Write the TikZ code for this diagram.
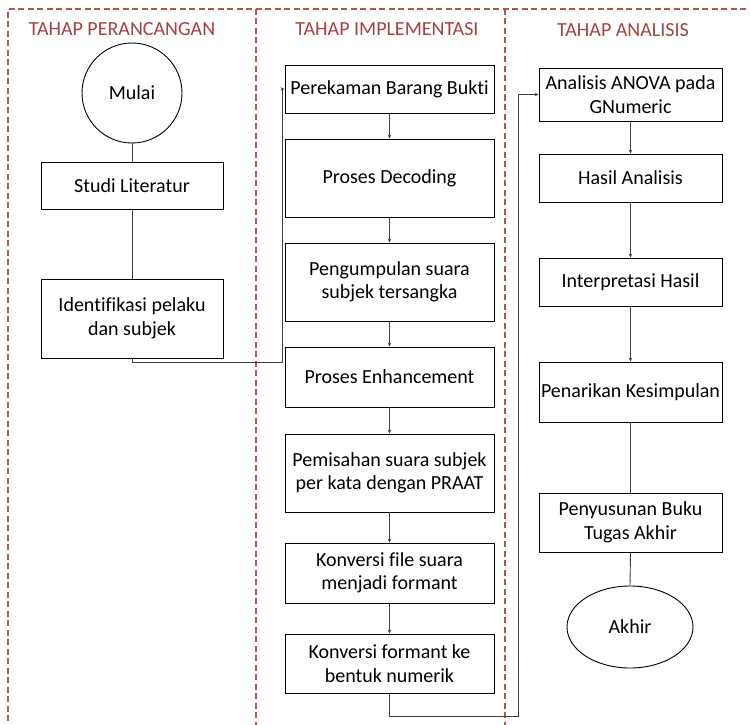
\documentclass[tikz,border=0pt]{standalone}
\usepackage{fontspec}
\setmainfont{Carlito}[Ligatures=NoCommon]
\usetikzlibrary{arrows.meta,shapes.geometric}
\definecolor{tred}{HTML}{A5423F}
\definecolor{dline}{HTML}{B3574F}
\definecolor{conncol}{HTML}{404040}
\begin{document}
\begin{tikzpicture}[x=1pt,y=-1pt,
  box/.style={draw=black,line width=0.9pt,inner sep=0pt,align=center,font=\fontsize{20}{23.5}\selectfont},
  lbl/.style={text=tred,font=\fontsize{20}{23}\selectfont,inner sep=0pt,anchor=base},
  conn/.style={draw=conncol,line width=0.9pt},
  arr/.style={conn,-{Stealth[length=4pt,width=3.5pt]}},
  phase/.style={draw=dline,line width=1.2pt,dash pattern=on 6pt off 3.5pt}]
\useasboundingbox (0,0) rectangle (750,725);

% phase frames
\draw[phase] (8,740) -- (8,9) -- (760,9);
\draw[phase] (256,9) -- (256,740);
\draw[phase] (505,9) -- (505,740);

% titles
\node[lbl] (t1) at (122,36) {TAHAP PERANCANGAN};
\node[lbl] (t2) at (387,36) {TAHAP IMPLEMENTASI};
\node[lbl] (t3) at (623,37) {TAHAP ANALISIS};

% left column
\node[box,circle,minimum size=100pt] (mulai) at (132,93) {Mulai};
\node[box,minimum width=182pt,minimum height=47pt] (studi) at (132,185.5) {Studi Literatur};
\node[box,minimum width=182pt,minimum height=79pt] (ident) at (132,318.5) {Identifikasi pelaku\\dan subjek};

% middle column
\node[box,minimum width=209pt,minimum height=48pt] (rekam) at (389.5,89) {Perekaman Barang Bukti};
\node[box,minimum width=209pt,minimum height=78pt] (decod) at (389.5,178) {Proses Decoding};
\node[box,minimum width=209pt,minimum height=78pt] (kumpul) at (389.5,282) {Pengumpulan suara\\subjek tersangka};
\node[box,minimum width=209pt,minimum height=60pt] (enh) at (389.5,377) {Proses Enhancement};
\node[box,minimum width=209pt,minimum height=78pt] (pisah) at (389.5,473) {Pemisahan suara subjek\\per kata dengan PRAAT};
\node[box,minimum width=209pt,minimum height=60pt] (konv1) at (389.5,573) {Konversi file suara\\menjadi formant};
\node[box,minimum width=209pt,minimum height=59pt] (konv2) at (389.5,663.5) {Konversi formant ke\\bentuk numerik};

% right column
\node[box,minimum width=183pt,minimum height=53pt] (anova) at (630.5,94.5) {Analisis ANOVA pada\\GNumeric};
\node[box,minimum width=183pt,minimum height=48pt] (hasil) at (630.5,178) {Hasil Analisis};
\node[box,minimum width=183pt,minimum height=48pt] (interp) at (630.5,282) {Interpretasi Hasil};
\node[box,minimum width=183pt,minimum height=60pt] (tarik) at (630.5,392) {Penarikan Kesimpulan};
\node[box,minimum width=183pt,minimum height=59pt] (susun) at (630.5,522.5) {Penyusunan Buku\\Tugas Akhir};
\node[box,ellipse,minimum width=126pt,minimum height=82pt] (akhir) at (630,627) {Akhir};

% connectors left
\draw[conn] (mulai.south) -- (studi.north);
\draw[conn] (studi.south) -- (ident.north);
\coordinate (c1) at (282,362);
\draw[arr] (ident.south) |- (c1) |- (rekam.west);

% connectors middle
\draw[arr] (rekam.south) -- (decod.north);
\draw[arr] (decod.south) -- (kumpul.north);
\draw[arr] (kumpul.south) -- (enh.north);
\draw[arr] (enh.south) -- (pisah.north);
\draw[arr] (pisah.south) -- (konv1.north);
\draw[arr] (konv1.south) -- (konv2.north);
\coordinate (c2) at (518,716);
\draw[arr] (konv2.south) |- (c2) |- (anova.west);

% connectors right
\draw[arr] (anova.south) -- (hasil.north);
\draw[arr] (hasil.south) -- (interp.north);
\draw[arr] (interp.south) -- (tarik.north);
\draw[conn] (tarik.south) -- (susun.north);
\draw[conn] (susun.south) -- (akhir.north);
\end{tikzpicture}
\end{document}
